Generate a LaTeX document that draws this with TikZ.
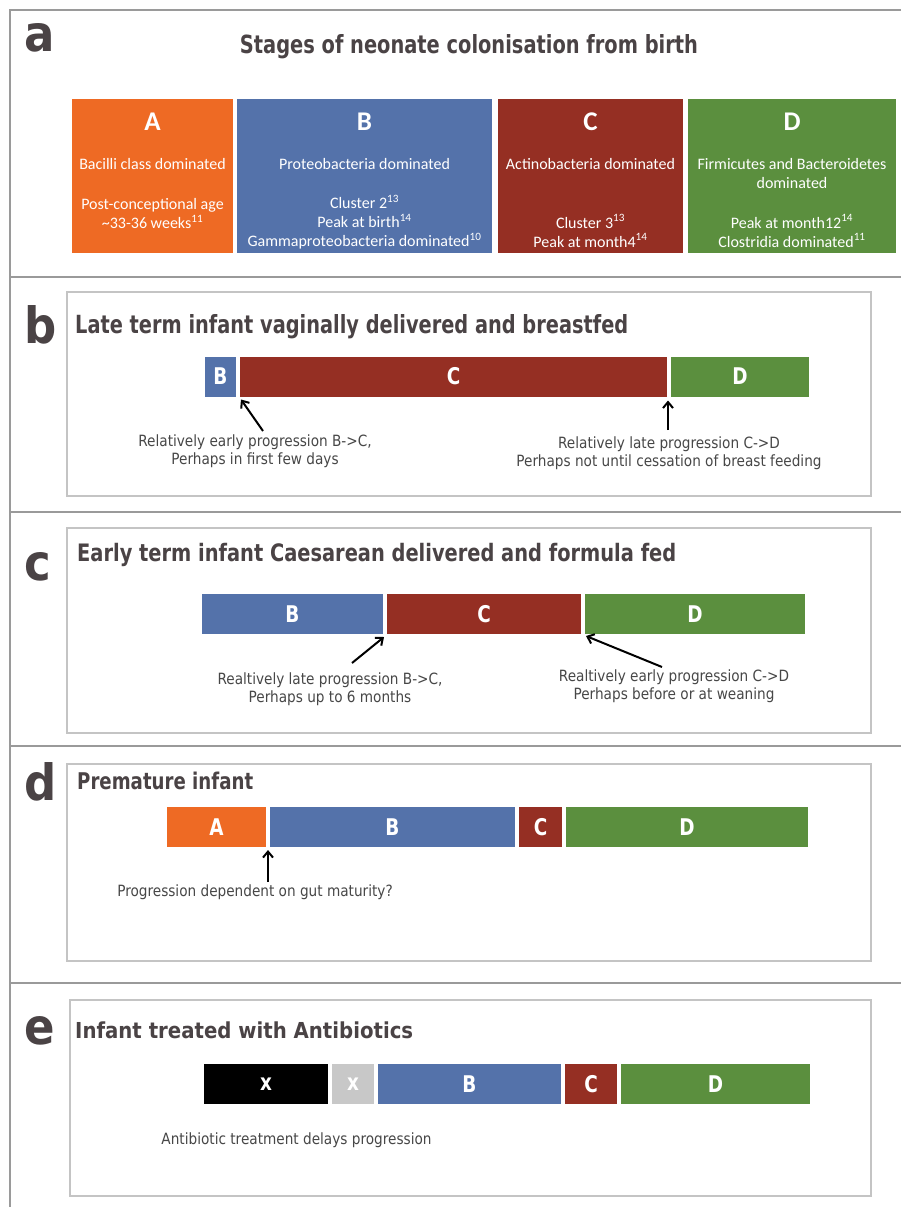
\documentclass[tikz,border=0pt]{standalone}
\usepackage{fontspec}
\usepackage{graphicx}
\usetikzlibrary{arrows.meta}
\setmainfont{Carlito}
\newfontfamily\ttlfont{DejaVu Sans}
\newfontfamily\lblfont[FakeStretch=0.88]{DejaVu Sans}
\newfontfamily\barfont[FakeStretch=0.8]{DejaVu Sans}
\newfontfamily\plfont[FakeStretch=0.9]{DejaVu Sans}
\definecolor{cA}{HTML}{EE6A24}
\definecolor{cB}{HTML}{5472AA}
\definecolor{cC}{HTML}{952F23}
\definecolor{cD}{HTML}{5B8F3E}
\definecolor{cX}{HTML}{C8C8C8}
\definecolor{txt}{HTML}{474747}
\definecolor{ttlc}{HTML}{4A4345}
\definecolor{framec}{HTML}{9A9A9A}
\definecolor{inboxc}{HTML}{C4C4C4}
\newcommand\hfit[2]{\resizebox{#1}{\height}{#2}}
\tikzset{
  frame/.style={draw=framec, line width=1.2pt},
  inbox/.style={draw=inboxc, line width=1.2pt},
  bar/.style={inner sep=0pt, outer sep=0pt, text=white, minimum height=40pt,
    font=\barfont\bfseries\fontsize{23}{26}\selectfont},
  abox/.style={inner sep=0pt, outer sep=0pt, minimum height=154pt},
  atext/.style={text=white, align=center, inner sep=0pt, font=\fontsize{16}{19}\selectfont},
  aletter/.style={text=white, inner sep=0pt, font=\bfseries\fontsize{27}{30}\selectfont},
  lab/.style={text=txt, align=center, inner sep=0pt, font=\lblfont\fontsize{15.5}{18}\selectfont},
  arr/.style={-{Straight Barb[length=6pt,width=10pt]}, line width=2pt},
  plet/.style={text=ttlc, anchor=base west, inner sep=0pt, font=\plfont\bfseries\fontsize{50}{52}\selectfont},
  ttlnode/.style={text=ttlc, inner sep=0pt},
}
\begin{document}
\begin{tikzpicture}[x=1pt, y=-1pt]
\fill[white] (0,0) rectangle (901,1207);
\useasboundingbox (0,0) rectangle (901,1207);
% outer frame
\draw[frame] (10,1207) -- (10,10) -- (901,10);
\draw[frame] (10,277) -- (901,277);
\draw[frame] (10,512) -- (901,512);
\draw[frame] (10,746) -- (901,746);
\draw[frame] (10,983) -- (901,983);

% ---------- panel a ----------
\node[plet] (pa) at (24,52) {a};
\node[ttlnode, anchor=base] (ta) at (469,53) {\hfit{458pt}{\ttlfont\bfseries\fontsize{25}{28}\selectfont Stages of neonate colonisation from birth}};
\node[abox, fill=cA, minimum width=161pt] (aA) at (152.5,176) {};
\node[abox, fill=cB, minimum width=255pt] (aB) at (364.5,176) {};
\node[abox, fill=cC, minimum width=185pt] (aC) at (590.5,176) {};
\node[abox, fill=cD, minimum width=208pt] (aD) at (792,176) {};
\node[aletter] (aAl) at (152.5,122) {A};
\node[aletter] (aBl) at (364.5,122) {B};
\node[aletter] (aCl) at (590.5,122) {C};
\node[aletter] (aDl) at (792,122) {D};
\node[atext] (aAd) at (152.5,164) {Bacilli class dominated};
\node[atext] (aBd) at (364.5,164) {Proteobacteria dominated};
\node[atext] (aCd) at (590.5,164) {Actinobacteria dominated};
\node[atext] (aDd) at (792,174) {Firmicutes and Bacteroidetes\\dominated};
\node[atext] (aAr) at (152.5,214) {Post-conceptional age\\\textasciitilde 33-36 weeks\textsuperscript{11}};
\node[atext] (aBr) at (364.5,222) {Cluster 2\textsuperscript{13}\\Peak at birth\textsuperscript{14}\\Gammaproteobacteria dominated\textsuperscript{10}};
\node[atext] (aCr) at (590.5,231) {Cluster 3\textsuperscript{13}\\Peak at month4\textsuperscript{14}};
\node[atext] (aDr) at (792,231) {Peak at month12\textsuperscript{14}\\Clostridia dominated\textsuperscript{11}};

% ---------- panel b ----------
\draw[inbox] (67,292) rectangle (871,496);
\node[plet] (pb) at (24,343) {b};
\node[ttlnode, anchor=base west] (tb) at (75,333) {\hfit{553pt}{\ttlfont\bfseries\fontsize{25}{28}\selectfont Late term infant vaginally delivered and breastfed}};
\node[bar, fill=cB, minimum width=31pt] (bB) at (220.5,376.5) {B};
\node[bar, fill=cC, minimum width=427pt] (bC) at (453.5,376.5) {C};
\node[bar, fill=cD, minimum width=138pt] (bD) at (740,376.5) {D};
\node[lab] (lb1) at (255,451) {Relatively early progression B->C,\\Perhaps in first few days};
\node[lab] (lb2) at (669,453) {Relatively late progression C->D\\Perhaps not until cessation of breast feeding};
\coordinate (b1s) at (263,431);
\coordinate (b2s) at (668,430);
\draw[arr] (b1s) -- ([shift={(1,3)}]bC.south west);
\draw[arr] (b2s) -- ([shift={(-3,4)}]bD.south west);

% ---------- panel c ----------
\draw[inbox] (67,528) rectangle (871,733);
\node[plet] (pc) at (24,580) {c};
\node[ttlnode, anchor=base west] (tc) at (77,561) {\hfit{599pt}{\ttlfont\bfseries\fontsize{24}{28}\selectfont Early term infant Caesarean delivered and formula fed}};
\node[bar, fill=cB, minimum width=181pt] (cB) at (292.5,614) {B};
\node[bar, fill=cC, minimum width=194pt] (cC) at (484,614) {C};
\node[bar, fill=cD, minimum width=220pt] (cD) at (695,614) {D};
\node[lab] (lc1) at (330,689) {Realtively late progression B->C,\\Perhaps up to 6 months};
\node[lab] (lc2) at (674,686) {Realtively early progression C->D\\Perhaps before or at weaning};
\coordinate (c1s) at (352,663);
\coordinate (c2s) at (662,667);
\draw[arr] (c1s) -- ([shift={(-3,3)}]cC.south west);
\draw[arr] (c2s) -- ([shift={(1,2)}]cD.south west);

% ---------- panel d ----------
\draw[inbox] (67,764) rectangle (871,961);
\node[plet] (pd) at (24,800) {d};
\node[ttlnode, anchor=base west] (td) at (77,789) {\hfit{176pt}{\ttlfont\bfseries\fontsize{23}{27}\selectfont Premature infant}};
\node[bar, fill=cA, minimum width=99pt] (dA) at (216.5,827) {A};
\node[bar, fill=cB, minimum width=245pt] (dB) at (392.5,827) {B};
\node[bar, fill=cC, minimum width=43pt] (dC) at (540.5,827) {C};
\node[bar, fill=cD, minimum width=242pt] (dD) at (687,827) {D};
\node[lab] (ld1) at (255,892) {Progression dependent on gut maturity?};
\coordinate (d1s) at (268,882);
\draw[arr] (d1s) -- ([shift={(-2,3)}]dB.south west);

% ---------- panel e ----------
\draw[inbox] (70,1000) rectangle (871,1196);
\node[plet] (pe) at (24,1044) {e};
\node[ttlnode, anchor=base west] (te) at (75,1038) {\hfit{338pt}{\ttlfont\bfseries\fontsize{22}{26}\selectfont Infant treated with Antibiotics}};
\node[bar, fill=black, minimum width=124pt] (eX1) at (266,1084) {x};
\node[bar, fill=cX, minimum width=42pt] (eX2) at (353,1084) {x};
\node[bar, fill=cB, minimum width=183pt] (eB) at (469.5,1084) {B};
\node[bar, fill=cC, minimum width=52pt] (eC) at (591,1084) {C};
\node[bar, fill=cD, minimum width=189pt] (eD) at (715.5,1084) {D};
\node[lab] (le1) at (296.5,1140) {Antibiotic treatment delays progression};
\end{tikzpicture}
\end{document}
